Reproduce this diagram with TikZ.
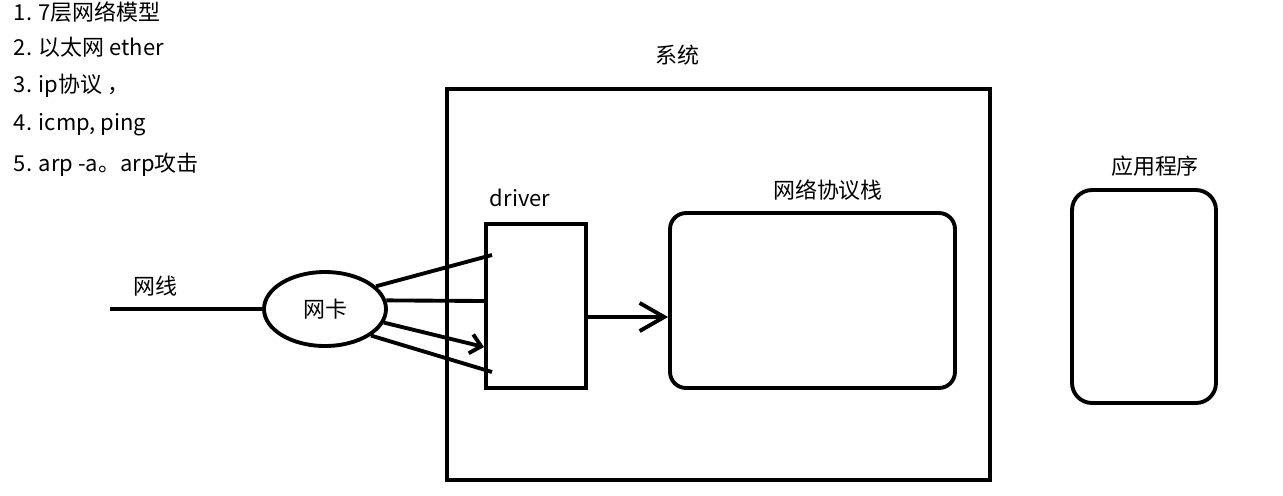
\documentclass[tikz,border=0pt]{standalone}
\usepackage{fontspec}
\setmainfont{Noto Sans CJK SC}
\usepackage{tikz}
\usetikzlibrary{arrows.meta, shapes.geometric, calc}

\begin{document}
\begin{tikzpicture}[
    x=0.02cm, y=-0.02cm,
    line width=2.2pt,
    every node/.style={font=\fontsize{12.5}{15}\selectfont},
    box/.style={draw, rectangle, inner sep=0pt},
    roundbox/.style={draw, rectangle, rounded corners=0.32cm, inner sep=0pt},
    card/.style={draw, ellipse, minimum width=2.44cm, minimum height=1.48cm, inner sep=0pt},
    item/.style={anchor=west, inner sep=0pt},
    arrow/.style={-{Straight Barb[length=14pt, width=16pt]}},
    smallarrow/.style={-{Straight Barb[length=6pt, width=11pt]}}
]
    \useasboundingbox (0,0) rectangle (1283,495);

    % notes
    \node[item] (n1) at (12,12) {1. 7层网络模型};
    \node[item] (n2) at (12,47) {2. 以太网 ether};
    \node[item] (n3) at (12,86) {3. ip协议 ，};
    \node[item] (n4) at (12,125) {4. icmp, ping};
    \node[item] (n5) at (12,165) {5. arp -a。arp攻击};

    % boxes
    \node[box, minimum width=10.86cm, minimum height=7.82cm] (sys) at (718.5,284.5) {};
    \node[box, minimum width=2cm, minimum height=3.28cm] (driver) at (536,306) {};
    \node[roundbox, minimum width=5.7cm, minimum height=3.5cm] (stack) at (812.5,300.5) {};
    \node[roundbox, rounded corners=0.4cm, minimum width=2.88cm, minimum height=4.26cm] (app) at (1144,296.5) {};
    \node[card] (nic) at (325,309) {网卡};

    % labels
    \node (syslabel) at (677,55) {系统};
    \node (drvlabel) at (520,198) {driver};
    \node (stacklabel) at (828,190) {网络协议栈};
    \node (applabel) at (1155,166) {应用程序};
    \node (wirelabel) at (155,286) {网线};

    % connectors
    \coordinate (wire) at (110,309);
    \coordinate (d1) at (492,255);
    \coordinate (d2) at (486,301);
    \coordinate (d3) at (484,347);
    \coordinate (d4) at (492,372);
    \coordinate (out) at (586,317);

    \draw (wire) -- (nic);
    \draw (nic.24) -- (d1);
    \draw (nic.8) -- (d2);
    \draw[smallarrow] (nic.347) -- (d3);
    \draw (nic.330) -- (d4);
    \draw[arrow] (out) -- (out -| stack.west);
\end{tikzpicture}
\end{document}
